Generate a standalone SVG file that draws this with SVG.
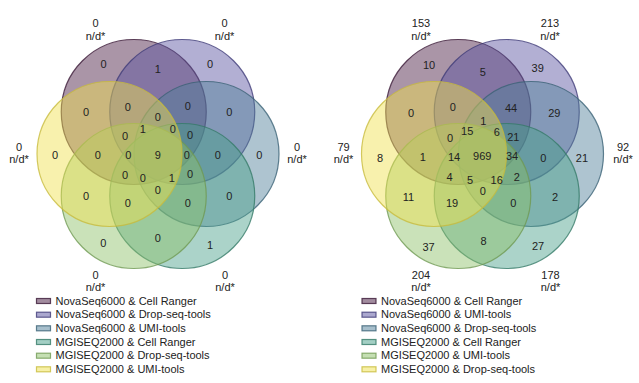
<svg xmlns="http://www.w3.org/2000/svg" width="639" height="383" viewBox="0 0 639 383">
<style>
text{font-family:"Liberation Sans",Arial,sans-serif;font-size:11px;fill:#222}
.n{text-anchor:middle}
.c{fill-opacity:0.46;stroke-width:1.2;stroke-opacity:0.8}
.s1{fill:#45193f;stroke:#3a1836}
.s2{fill:#57519f;stroke:#3f3b78}
.s3{fill:#4f7f99;stroke:#3a6275}
.s4{fill:#479f89;stroke:#357a68}
.s5{fill:#8bbf67;stroke:#6f9a52}
.s6{fill:#efe14d;stroke:#c8bb3c}
.lg{fill-opacity:0.5;stroke-width:1.2;stroke-opacity:0.8}
</style>
<rect width="639" height="383" fill="#fff"/>
<g id="venn-left">
<g id="L-set1"><circle class="c s1" cx="133.75" cy="112" r="72.5"/></g>
<g id="L-set2"><circle class="c s2" cx="182.25" cy="112" r="72.5"/></g>
<g id="L-set3"><circle class="c s3" cx="206.5" cy="154" r="72.5"/></g>
<g id="L-set4"><circle class="c s4" cx="182.25" cy="196" r="72.5"/></g>
<g id="L-set5"><circle class="c s5" cx="133.75" cy="196" r="72.5"/></g>
<g id="L-set6"><circle class="c s6" cx="109.5" cy="154" r="72.5"/></g>
<g id="L-outer">
<text class="n" x="95.5" y="27">0</text><text class="n" x="95.5" y="39.5">n/d*</text>
<text class="n" x="224.5" y="27">0</text><text class="n" x="224.5" y="39.5">n/d*</text>
<text class="n" x="19" y="151">0</text><text class="n" x="19" y="163">n/d*</text>
<text class="n" x="297" y="151">0</text><text class="n" x="297" y="163">n/d*</text>
<text class="n" x="95.5" y="279">0</text><text class="n" x="95.5" y="291">n/d*</text>
<text class="n" x="225" y="279">0</text><text class="n" x="225" y="291">n/d*</text>
</g>
<g id="L-counts">
<text class="n" x="103.5" y="67.5">0</text>
<text class="n" x="157.7" y="73.3">1</text>
<text class="n" x="210" y="67.5">0</text>
<text class="n" x="86" y="115.7">0</text>
<text class="n" x="127.7" y="110.7">0</text>
<text class="n" x="187.7" y="110">0</text>
<text class="n" x="229.3" y="115.7">0</text>
<text class="n" x="157.7" y="121.3">0</text>
<text class="n" x="142.7" y="133.3">1</text>
<text class="n" x="172.7" y="133.3">0</text>
<text class="n" x="125" y="140">0</text>
<text class="n" x="190" y="139.3">0</text>
<text class="n" x="55" y="159">0</text>
<text class="n" x="97.7" y="159">0</text>
<text class="n" x="128.3" y="159">0</text>
<text class="n" x="157.7" y="159">9</text>
<text class="n" x="186.7" y="159">0</text>
<text class="n" x="217.7" y="159">0</text>
<text class="n" x="259.3" y="159">0</text>
<text class="n" x="125" y="179">0</text>
<text class="n" x="142.7" y="181.7">0</text>
<text class="n" x="171.7" y="181.7">1</text>
<text class="n" x="190" y="178.3">0</text>
<text class="n" x="157.7" y="194">0</text>
<text class="n" x="86" y="200">0</text>
<text class="n" x="127.7" y="206.7">0</text>
<text class="n" x="187.7" y="206.7">0</text>
<text class="n" x="229.3" y="200">0</text>
<text class="n" x="103.3" y="247.3">0</text>
<text class="n" x="157.7" y="242.3">0</text>
<text class="n" x="210" y="249">1</text>
</g>
<g id="L-legend">
<rect class="lg s1" x="36.5" y="298.5" width="14" height="5"/>
<rect class="lg s2" x="36.5" y="312.2" width="14" height="5"/>
<rect class="lg s3" x="36.5" y="325.8" width="14" height="5"/>
<rect class="lg s4" x="36.5" y="339.5" width="14" height="5"/>
<rect class="lg s5" x="36.5" y="353.2" width="14" height="5"/>
<rect class="lg s6" x="36.5" y="366.8" width="14" height="5"/>
<text x="55.5" y="304.7">NovaSeq6000 &amp; Cell Ranger</text>
<text x="55.5" y="318.4">NovaSeq6000 &amp; Drop-seq-tools</text>
<text x="55.5" y="332">NovaSeq6000 &amp; UMI-tools</text>
<text x="55.5" y="345.7">MGISEQ2000 &amp; Cell Ranger</text>
<text x="55.5" y="359.4">MGISEQ2000 &amp; Drop-seq-tools</text>
<text x="55.5" y="373">MGISEQ2000 &amp; UMI-tools</text>
</g>
</g>
<g id="venn-right">
<g id="R-set1"><circle class="c s1" cx="458.25" cy="112" r="72.5"/></g>
<g id="R-set2"><circle class="c s2" cx="506.75" cy="112" r="72.5"/></g>
<g id="R-set3"><circle class="c s3" cx="531" cy="154" r="72.5"/></g>
<g id="R-set4"><circle class="c s4" cx="506.75" cy="196" r="72.5"/></g>
<g id="R-set5"><circle class="c s5" cx="458.25" cy="196" r="72.5"/></g>
<g id="R-set6"><circle class="c s6" cx="434" cy="154" r="72.5"/></g>
<g id="R-outer">
<text class="n" x="421" y="27">153</text><text class="n" x="421" y="39.5">n/d*</text>
<text class="n" x="550" y="27">213</text><text class="n" x="550" y="39.5">n/d*</text>
<text class="n" x="343.5" y="150.5">79</text><text class="n" x="343.5" y="162.5">n/d*</text>
<text class="n" x="623" y="150.5">92</text><text class="n" x="623" y="162.5">n/d*</text>
<text class="n" x="421" y="279">204</text><text class="n" x="421" y="291">n/d*</text>
<text class="n" x="550.5" y="279">178</text><text class="n" x="550.5" y="291">n/d*</text>
</g>
<g id="R-counts">
<text class="n" x="429" y="69">10</text>
<text class="n" x="482.7" y="75.7">5</text>
<text class="n" x="537.7" y="72.3">39</text>
<text class="n" x="411" y="117.3">0</text>
<text class="n" x="452.7" y="111.3">0</text>
<text class="n" x="511" y="111.8">44</text>
<text class="n" x="554.3" y="117.3">29</text>
<text class="n" x="483.2" y="124.5">1</text>
<text class="n" x="467.2" y="134.5">15</text>
<text class="n" x="496.7" y="136.2">6</text>
<text class="n" x="450" y="141.8">0</text>
<text class="n" x="513.3" y="140.5">21</text>
<text class="n" x="380" y="161.5">8</text>
<text class="n" x="422.7" y="160.5">1</text>
<text class="n" x="454" y="160.5">14</text>
<text class="n" x="482.2" y="160">969</text>
<text class="n" x="512" y="160">34</text>
<text class="n" x="543.3" y="161.5">0</text>
<text class="n" x="581.9" y="161.8">21</text>
<text class="n" x="449.5" y="180.7">4</text>
<text class="n" x="470" y="183.6">5</text>
<text class="n" x="496.7" y="183.6">16</text>
<text class="n" x="516.7" y="180.5">2</text>
<text class="n" x="482.7" y="195.3">0</text>
<text class="n" x="408.5" y="200.7">11</text>
<text class="n" x="452" y="206.7">19</text>
<text class="n" x="513.3" y="207.3">0</text>
<text class="n" x="555" y="200.7">2</text>
<text class="n" x="428.5" y="250.7">37</text>
<text class="n" x="483.5" y="244.7">8</text>
<text class="n" x="538" y="250">27</text>
</g>
<g id="R-legend">
<rect class="lg s1" x="362" y="298.5" width="14" height="5"/>
<rect class="lg s2" x="362" y="312.2" width="14" height="5"/>
<rect class="lg s3" x="362" y="325.8" width="14" height="5"/>
<rect class="lg s4" x="362" y="339.5" width="14" height="5"/>
<rect class="lg s5" x="362" y="353.2" width="14" height="5"/>
<rect class="lg s6" x="362" y="366.8" width="14" height="5"/>
<text x="381" y="304.7">NovaSeq6000 &amp; Cell Ranger</text>
<text x="381" y="318.4">NovaSeq6000 &amp; UMI-tools</text>
<text x="381" y="332">NovaSeq6000 &amp; Drop-seq-tools</text>
<text x="381" y="345.7">MGISEQ2000 &amp; Cell Ranger</text>
<text x="381" y="359.4">MGISEQ2000 &amp; UMI-tools</text>
<text x="381" y="373">MGISEQ2000 &amp; Drop-seq-tools</text>
</g>
</g>
</svg>
